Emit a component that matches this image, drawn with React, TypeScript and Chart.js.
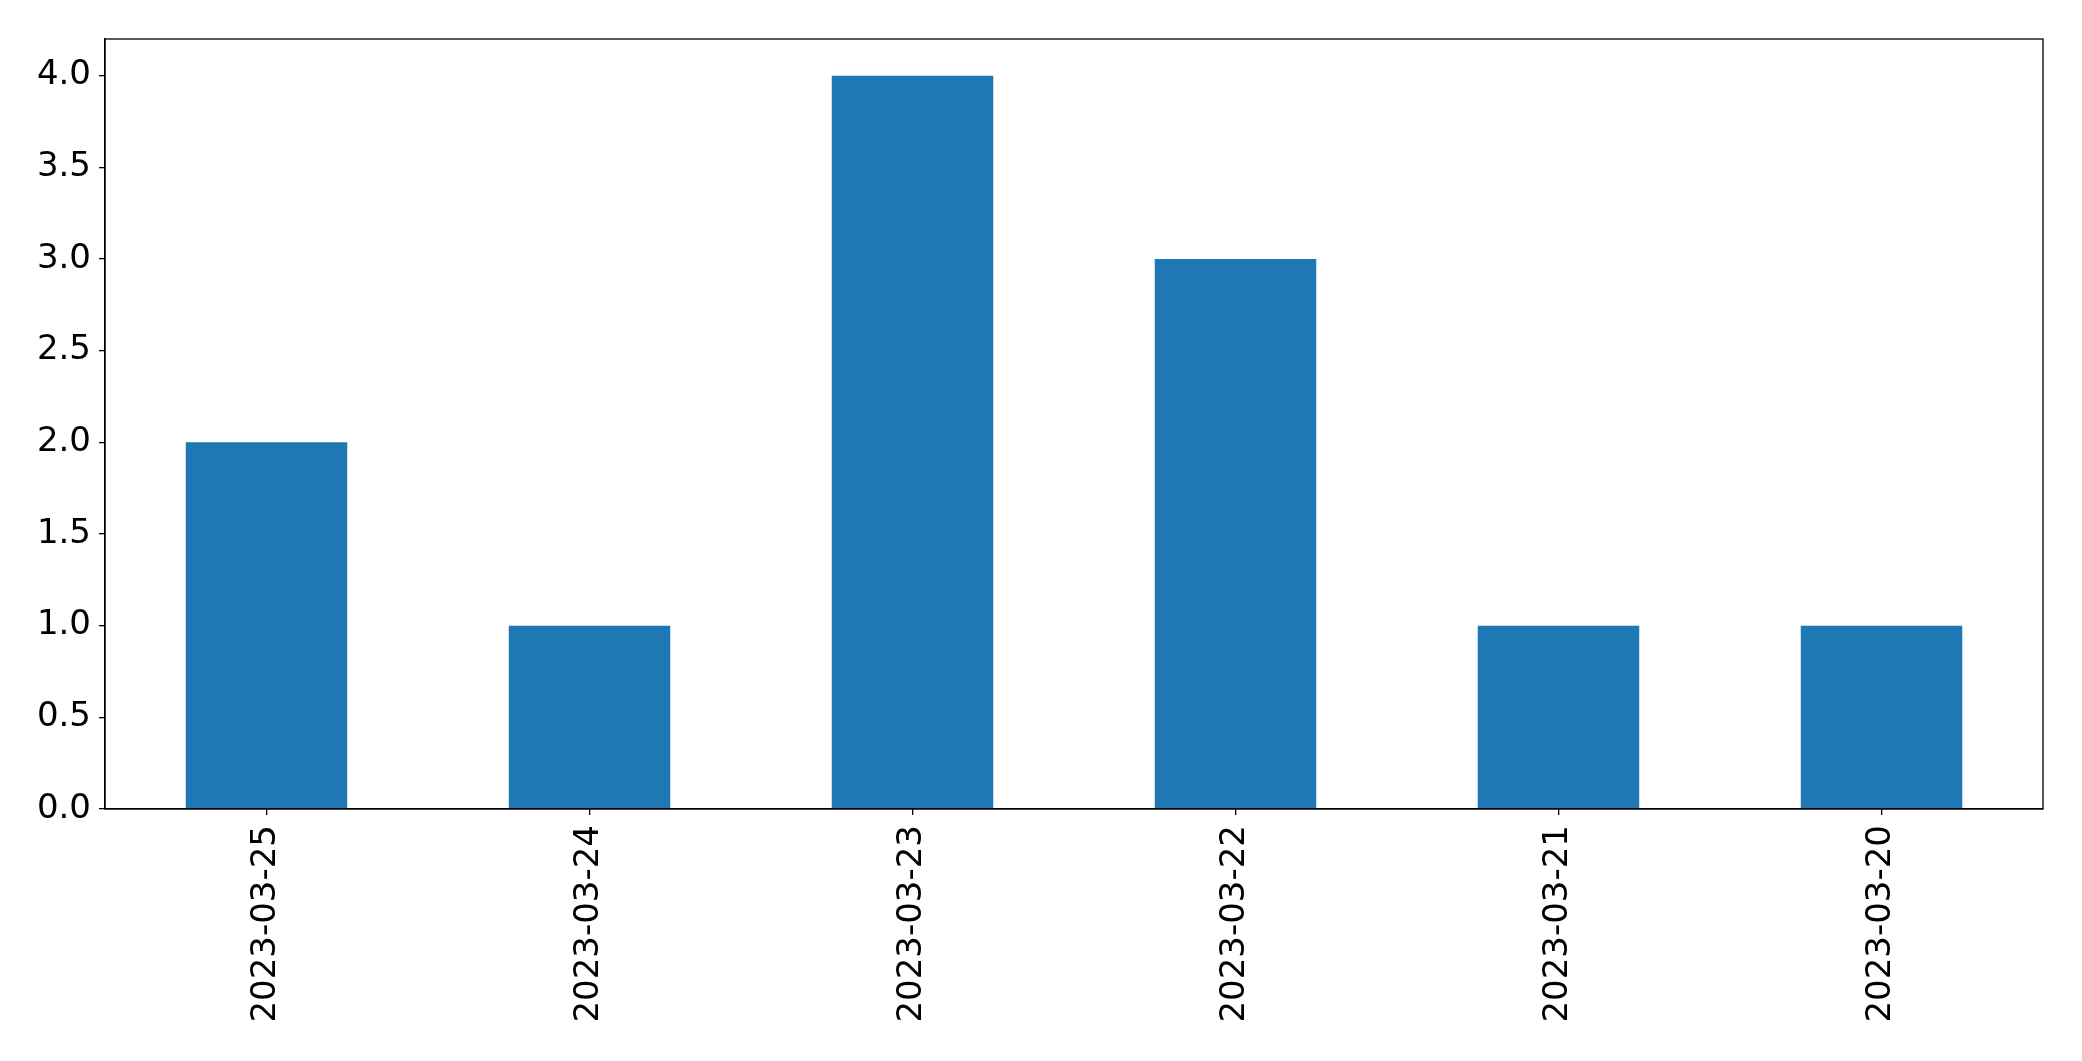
import React, { useEffect, useRef } from "react";
import { Chart, registerables } from "chart.js";

Chart.register(...registerables);

const categories = ["2023-03-25", "2023-03-24", "2023-03-23", "2023-03-22", "2023-03-21", "2023-03-20"];
const counts = [2, 1, 4, 3, 1, 1];
const yTickValues = [0, 0.5, 1, 1.5, 2, 2.5, 3, 3.5, 4];
const yMax = 4.2;

const W = 2082;
const H = 1061;
const FONT = { family: "'DejaVu Sans', sans-serif", size: 34 };

const frame = {
  id: "frame",
  afterDraw(chart: any) {
    const { ctx, chartArea } = chart;
    ctx.save();
    ctx.strokeStyle = "#000";
    ctx.lineWidth = 1.3;
    ctx.strokeRect(chartArea.left, chartArea.top, chartArea.right - chartArea.left, chartArea.bottom - chartArea.top);
    ctx.restore();
  },
};

export default function App() {
  const ref = useRef<HTMLCanvasElement | null>(null);
  useEffect(() => {
    const chart = new Chart(ref.current as HTMLCanvasElement, {
      type: "bar",
      data: {
        labels: categories,
        datasets: [
          {
            data: counts,
            backgroundColor: "#1f77b4",
            categoryPercentage: 1,
            barPercentage: 0.5,
          },
        ],
      },
      options: {
        animation: false,
        responsive: false,
        maintainAspectRatio: false,
        layout: { padding: { top: 39, right: 39, left: 0, bottom: 0 } },
        plugins: { legend: { display: false }, tooltip: { enabled: false } },
        scales: {
          x: {
            offset: true,
            grid: { display: true, offset: false, drawOnChartArea: false, tickLength: 6, color: "#000", lineWidth: 1.3 },
            border: { display: true, color: "#000", width: 1.3 },
            ticks: { color: "#000", font: FONT, maxRotation: 90, minRotation: 90, padding: 10, autoSkip: false },
            afterFit(scale: any) {
              scale.height = H - 809;
            },
          },
          y: {
            min: 0,
            max: yMax,
            grid: { display: true, drawOnChartArea: false, tickLength: 6, color: "#000", lineWidth: 1.3 },
            border: { display: true, color: "#000", width: 1.3 },
            ticks: {
              color: "#000",
              font: FONT,
              padding: 8,
              callback: (v: any) => Number(v).toFixed(1),
            },
            afterBuildTicks(scale: any) {
              scale.ticks = yTickValues.map((v) => ({ value: v }));
            },
            afterFit(scale: any) {
              scale.width = 105;
            },
          },
        },
      },
      plugins: [frame],
    });
    return () => chart.destroy();
  }, []);
  return (
    <div style={{ position: "fixed", left: 0, top: 0, width: W, height: H, background: "#fff" }}>
      <canvas ref={ref} width={W} height={H} style={{ width: W, height: H, display: "block" }} />
    </div>
  );
}
